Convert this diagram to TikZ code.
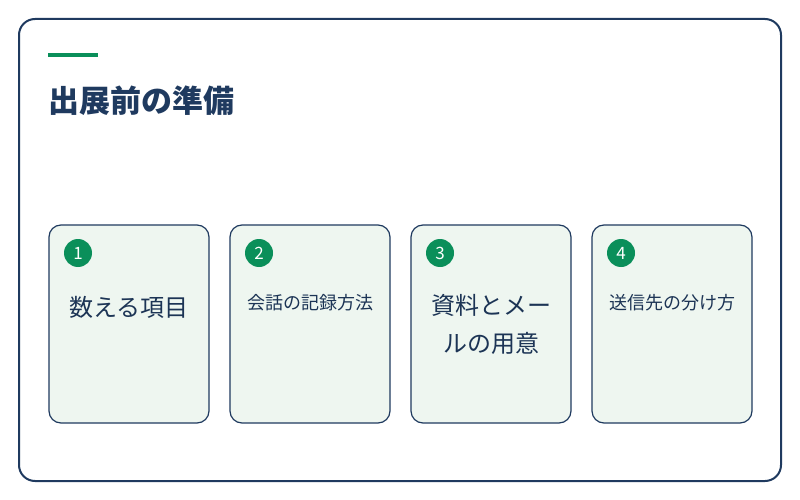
\documentclass[tikz,border=0pt]{standalone}
\usepackage{fontspec}
\newfontfamily\cjk{Noto Sans CJK JP}
\definecolor{navy}{HTML}{1F3A5F}
\definecolor{accent}{HTML}{0A8F5A}
\definecolor{cardfill}{HTML}{EEF6F0}
\begin{document}
\begin{tikzpicture}[x=1pt,y=-1pt,
  card/.style={draw=navy,line width=1.2pt,fill=cardfill,rounded corners=12pt},
  badge/.style={circle,fill=accent,text=white,inner sep=0pt,minimum size=28pt,font=\cjk\fontsize{17}{17}\selectfont},
  big/.style={font=\cjk\fontsize{24}{38}\selectfont,text=navy!90!black,align=center},
  small/.style={font=\cjk\fontsize{18}{22}\selectfont,text=navy!90!black,align=center}]

  \useasboundingbox (0,0) rectangle (800,500);
  \draw[navy,line width=2pt,fill=white,rounded corners=16pt] (19,19) rectangle (781,481);
  \fill[accent] (48,53) rectangle (98,57);
  \node[anchor=west,font=\cjk\bfseries\fontsize{31}{34}\selectfont,text=navy,inner sep=0pt] (title) at (48,101) {出展前の準備};

  \foreach \i/\x in {1/49,2/230,3/411,4/592}{
    \draw[card] (\x,225) rectangle (\x+160,423);
    \node[badge] (b\i) at (\x+29,253) {\i};
  }

  \node[big] (t1) at (129,307) {数える項目};
  \node[small] (t2) at (310,303) {会話の記録方法};
  \node[big] (t3) at (491,324) {資料とメー\\ルの用意};
  \node[small] (t4) at (672,303) {送信先の分け方};
\end{tikzpicture}
\end{document}
